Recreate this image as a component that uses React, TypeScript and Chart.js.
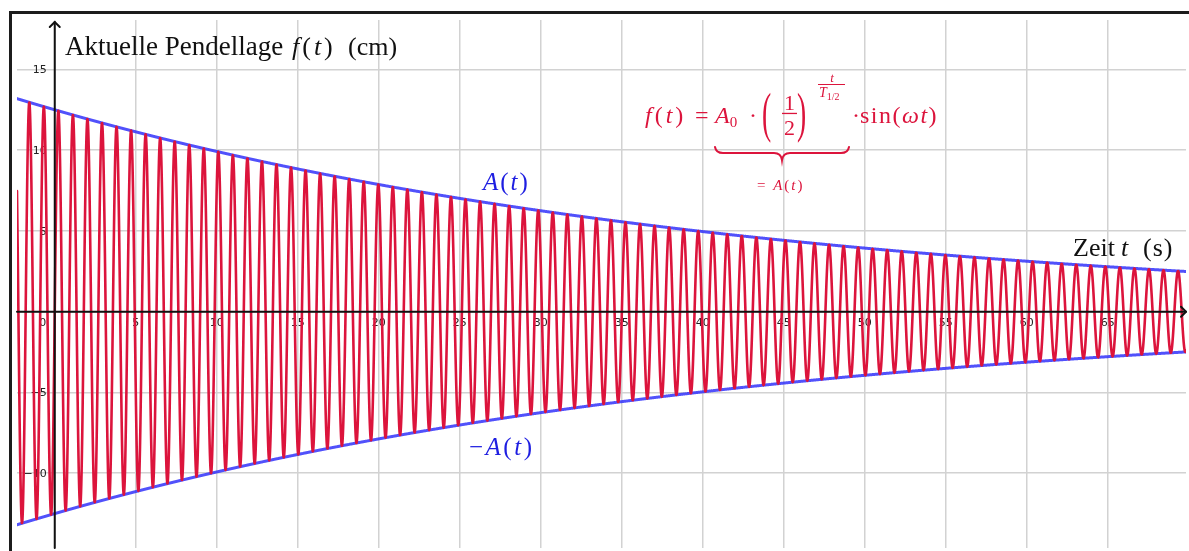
import React, { useEffect, useRef } from "react";
import { Chart, registerables } from "chart.js";

Chart.register(...registerables);

// Damped pendulum: f(t) = A0 · (1/2)^(t / T½) · sin(ωt)
const A0 = 12.5; // cm
const HALF_LIFE = 30; // s
const OMEGA = 7; // rad/s

const T_MIN = -2.33;
const T_MAX = 69.83;
const Y_MIN = -14.63;
const Y_MAX = 18.06;
const SAMPLE_COUNT = 5000;

const X_TICKS = [5, 10, 15, 20, 25, 30, 35, 40, 45, 50, 55, 60, 65];
const Y_TICKS = [15, 10, 5, -5, -10];
const ORIGIN_LABEL = "0";

const RED = "rgb(220,20,60)";
const BLUE_LINE = "rgba(50,50,250,0.85)";
const BLUE_TEXT = "rgb(30,30,225)";

const times: number[] = [];
for (let i = 0; i <= SAMPLE_COUNT; i++) {
  times.push(T_MIN + ((T_MAX - T_MIN) * i) / SAMPLE_COUNT);
}
const envelope = (t: number) => A0 * Math.pow(0.5, t / HALF_LIFE);
const displacement = times.map((t) => ({ x: t, y: envelope(t) * Math.sin(OMEGA * t) }));
const upperEnvelope = times.map((t) => ({ x: t, y: envelope(t) }));
const lowerEnvelope = times.map((t) => ({ x: t, y: -envelope(t) }));

const SERIF = '"Liberation Serif", "Times New Roman", serif';

type Run = [string, "n" | "i"];
function drawRuns(
  ctx: CanvasRenderingContext2D,
  x: number,
  y: number,
  runs: Run[],
  size: number,
  spacing = 0
) {
  let cx = x;
  (ctx as any).letterSpacing = `${spacing}px`;
  for (const [text, style] of runs) {
    ctx.font = `${style === "i" ? "italic " : ""}${size}px ${SERIF}`;
    ctx.fillText(text, cx, y);
    cx += ctx.measureText(text).width;
  }
  (ctx as any).letterSpacing = "0px";
  return cx;
}

function drawTallParen(ctx: CanvasRenderingContext2D, ch: string, x: number, cy: number, size: number, sy: number) {
  ctx.save();
  ctx.font = `${size}px ${SERIF}`;
  ctx.textBaseline = "middle";
  ctx.translate(x, cy);
  ctx.scale(1.15, sy);
  ctx.fillText(ch, 0, 0);
  ctx.restore();
}

const decorations = {
  id: "decorations",
  beforeDatasetsDraw(chart: any) {
    const { ctx, scales } = chart;
    const xs = scales.x;
    const ys = scales.y;
    const x0 = xs.getPixelForValue(0);
    const y0 = ys.getPixelForValue(0);
    ctx.save();
    ctx.fillStyle = "#222";
    ctx.font = '11px "DejaVu Sans", sans-serif';
    ctx.textBaseline = "middle";
    ctx.textAlign = "center";
    for (const v of X_TICKS) {
      ctx.fillText(String(v), xs.getPixelForValue(v), y0 + 11);
    }
    ctx.fillText(ORIGIN_LABEL, x0 - 12, y0 + 11);
    ctx.textAlign = "right";
    for (const v of Y_TICKS) {
      ctx.fillText(v < 0 ? "\u2212" + Math.abs(v) : String(v), x0 - 8, ys.getPixelForValue(v) + 1);
    }
    ctx.restore();
  },
  afterDatasetsDraw(chart: any) {
    const { ctx, scales, chartArea } = chart;
    const x0 = scales.x.getPixelForValue(0);
    const y0 = scales.y.getPixelForValue(0);
    ctx.save();
    ctx.strokeStyle = "#111";
    ctx.lineWidth = 2;
    ctx.lineCap = "round";
    ctx.lineJoin = "round";
    // axes
    ctx.beginPath();
    ctx.moveTo(x0, chartArea.bottom);
    ctx.lineTo(x0, chartArea.top + 2);
    ctx.moveTo(chartArea.left, y0);
    ctx.lineTo(chartArea.right, y0);
    ctx.stroke();
    // arrow heads
    ctx.beginPath();
    ctx.moveTo(x0 - 5, chartArea.top + 7);
    ctx.lineTo(x0, chartArea.top + 2);
    ctx.lineTo(x0 + 5, chartArea.top + 7);
    ctx.moveTo(chartArea.right - 5, y0 - 5);
    ctx.lineTo(chartArea.right, y0);
    ctx.lineTo(chartArea.right - 5, y0 + 5);
    ctx.stroke();
    ctx.restore();
  },
  afterDraw(chart: any) {
    const { ctx } = chart;
    ctx.save();
    ctx.textBaseline = "alphabetic";
    ctx.textAlign = "left";

    // frame
    ctx.fillStyle = "#1c1c1c";
    ctx.fillRect(9, 11, 3, 560);
    ctx.fillRect(9, 11, 1200, 3);

    // axis titles
    ctx.fillStyle = "#111";
    drawRuns(ctx, 65, 55, [["Aktuelle Pendellage", "n"]], 27);
    drawRuns(ctx, 292, 55, [["f", "i"], ["(", "n"], ["t", "i"], [")", "n"]], 26, 3);
    drawRuns(ctx, 348, 55, [["(cm)", "n"]], 26);
    drawRuns(ctx, 1073, 256, [["Zeit", "n"]], 26);
    drawRuns(ctx, 1121, 256, [["t", "i"]], 26);
    drawRuns(ctx, 1143, 256, [["(s)", "n"]], 26, 1);

    // envelope labels
    ctx.fillStyle = BLUE_TEXT;
    drawRuns(ctx, 483, 190, [["A", "i"], ["(", "n"], ["t", "i"], [")", "n"]], 25, 2);
    drawRuns(ctx, 469, 455, [["\u2212", "n"], ["A", "i"], ["(", "n"], ["t", "i"], [")", "n"]], 25, 2.5);

    // formula
    ctx.fillStyle = RED;
    ctx.strokeStyle = RED;
    const base = 123;
    drawRuns(ctx, 645, base, [["f", "i"], ["(", "n"], ["t", "i"], [")", "n"]], 24, 3);
    drawRuns(ctx, 695, base, [["=", "n"]], 24);
    let ex = drawRuns(ctx, 715, base, [["A", "i"]], 24);
    drawRuns(ctx, ex, base + 4, [["0", "n"]], 15);
    drawRuns(ctx, 749, base, [["\u00b7", "n"]], 24);
    drawTallParen(ctx, "(", 762, 117, 24, 2.3);
    ctx.textAlign = "center";
    ctx.font = `22px ${SERIF}`;
    ctx.fillText("1", 789.5, 110);
    ctx.fillText("2", 789.5, 135);
    ctx.fillRect(782, 112.8, 15, 1.3);
    ctx.font = `italic 13px ${SERIF}`;
    ctx.fillText("t", 832, 82);
    ctx.fillRect(818, 84, 27, 1);
    ctx.textAlign = "left";
    drawTallParen(ctx, ")", 797, 117, 24, 2.3);
    ex = drawRuns(ctx, 819, 97, [["T", "i"]], 14);
    drawRuns(ctx, ex, 100, [["1/2", "n"]], 10);
    drawRuns(ctx, 852, base, [["\u00b7", "n"]], 24);
    drawRuns(ctx, 860, base, [["sin(", "n"], ["\u03c9", "i"], ["t", "i"], [")", "n"]], 24, 1.5);

    // underbrace
    ctx.lineWidth = 2;
    ctx.lineCap = "round";
    ctx.beginPath();
    ctx.moveTo(715, 147);
    ctx.quadraticCurveTo(716, 153, 723, 153);
    ctx.lineTo(774, 153);
    ctx.quadraticCurveTo(781, 153, 782, 160);
    ctx.quadraticCurveTo(783, 153, 790, 153);
    ctx.lineTo(841, 153);
    ctx.quadraticCurveTo(848, 153, 849, 147);
    ctx.stroke();
    drawRuns(ctx, 757, 190, [["= ", "n"], ["A", "i"], ["(", "n"], ["t", "i"], [")", "n"]], 15, 2);

    ctx.restore();
  },
};

export default function App() {
  const canvasRef = useRef<HTMLCanvasElement | null>(null);

  useEffect(() => {
    const canvas = canvasRef.current;
    if (!canvas) return;
    const lineStyle = {
      pointRadius: 0,
      tension: 0.0001,
      borderJoinStyle: "round" as const,
      borderCapStyle: "round" as const,
    };
    const chart = new Chart(canvas, {
      type: "line",
      data: {
        datasets: [
          { label: "f(t)", data: displacement, borderColor: RED, borderWidth: 2.6, ...lineStyle },
          { label: "A(t)", data: upperEnvelope, borderColor: BLUE_LINE, borderWidth: 3, ...lineStyle },
          { label: "-A(t)", data: lowerEnvelope, borderColor: BLUE_LINE, borderWidth: 3, ...lineStyle },
        ],
      },
      options: {
        responsive: false,
        animation: false,
        parsing: false,
        normalized: true,
        events: [],
        layout: { padding: { left: 17, top: 20, right: 3, bottom: 3 } },
        plugins: {
          legend: { display: false },
          tooltip: { enabled: false },
        },
        scales: {
          x: {
            type: "linear",
            min: T_MIN,
            max: T_MAX,
            border: { display: false },
            grid: { color: "#d2d2d2", lineWidth: 1.5, drawTicks: false },
            ticks: { display: false, stepSize: 5, includeBounds: false },
          },
          y: {
            type: "linear",
            min: Y_MIN,
            max: Y_MAX,
            border: { display: false },
            grid: { color: "#d2d2d2", lineWidth: 1.5, drawTicks: false },
            ticks: { display: false, stepSize: 5, includeBounds: false },
          },
        },
      },
      plugins: [decorations],
    });
    return () => chart.destroy();
  }, []);

  return (
    <div style={{ position: "absolute", left: 0, top: 0, width: 1189, height: 551, background: "#fff" }}>
      <canvas ref={canvasRef} width={1189} height={551} style={{ display: "block" }} />
    </div>
  );
}
